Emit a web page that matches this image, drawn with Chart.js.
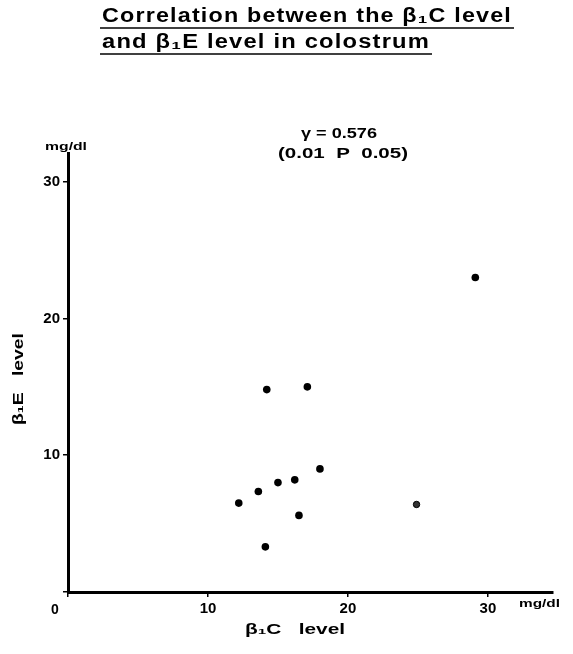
<!DOCTYPE html>
<html>
<head>
<meta charset="utf-8">
<script src="https://cdn.jsdelivr.net/npm/chart.js@4"></script>
<style>
html,body{margin:0;padding:0;background:#fff;}
#wrap{width:573px;height:654px;position:relative;}
</style>
</head>
<body>
<div id="wrap"><canvas id="c" width="573" height="654"></canvas></div>
<script>
// Data (mg/dl)
const b1cLevel = [14.2, 17.1, 18.0, 16.2, 15.0, 13.6, 12.2, 16.5, 14.1, 29.1];
const b1eLevel = [14.8, 15.0, 9.0, 8.2, 8.0, 7.35, 6.5, 5.6, 3.3, 23.0];
const faintX = [24.9];
const faintY = [6.4];
const xTicks = [10, 20, 30];
const yTicks = [10, 20, 30];
const titleLines = ['Correlation between the β\u2081C level', 'and β\u2081E level in colostrum'];
const statLines = ['\u03B3 = 0.576', '(0.01  P  0.05)'];

const FONT = '"Liberation Sans", Arial, sans-serif';

const pts = b1cLevel.map((x, i) => ({x: x, y: b1eLevel[i]}));
const faint = faintX.map((x, i) => ({x: x, y: faintY[i]}));

// draw text horizontally stretched to a target width, left edge at x
function fitText(ctx, text, x, y, width) {
  const w = ctx.measureText(text).width;
  ctx.save();
  ctx.translate(x, y);
  ctx.scale(width / w, 1);
  ctx.textAlign = 'left';
  ctx.fillText(text, 0, 0);
  ctx.restore();
}

const textPlugin = {
  id: 'texts',
  afterDraw(chart) {
    const ctx = chart.ctx;
    ctx.save();
    ctx.fillStyle = '#000';
    ctx.strokeStyle = '#000';
    // Title with underlines
    ctx.font = 'bold 20px ' + FONT;
    ctx.letterSpacing = '1px';
    ctx.textBaseline = 'alphabetic';
    const tx = 102;
    const tys = [22, 48];
    const tws = [410, 328];
    titleLines.forEach((t, i) => {
      fitText(ctx, t, tx, tys[i], tws[i]);
      ctx.lineWidth = 1.6;
      ctx.beginPath();
      ctx.moveTo(tx - 2, tys[i] + 6);
      ctx.lineTo(tx + tws[i] + 2, tys[i] + 6);
      ctx.stroke();
    });
    ctx.letterSpacing = '0px';
    // Correlation stats
    ctx.font = 'bold 15px ' + FONT;
    ctx.textBaseline = 'middle';
    fitText(ctx, statLines[0], 301, 134, 76);
    fitText(ctx, statLines[1], 278, 154, 130);
    // Units
    ctx.font = 'bold 11px ' + FONT;
    fitText(ctx, 'mg/dl', 45, 147, 42);
    fitText(ctx, 'mg/dl', 519, 604, 41);
    // Origin label
    ctx.font = 'bold 14px ' + FONT;
    ctx.textAlign = 'center';
    ctx.fillText('0', 55, 610);
    // Axis titles
    ctx.font = 'bold 15px ' + FONT;
    fitText(ctx, 'β\u2081C   level', 245, 630, 100);
    ctx.save();
    ctx.translate(19, 425);
    ctx.rotate(-Math.PI / 2);
    fitText(ctx, 'β\u2081E   level', 0, 0, 92);
    ctx.restore();
    ctx.restore();
  }
};

new Chart(document.getElementById('c'), {
  type: 'scatter',
  data: {
    datasets: [
      {data: pts, backgroundColor: '#000', borderColor: '#000', pointRadius: 3.8, pointBorderWidth: 0},
      {data: faint, backgroundColor: '#333', borderColor: '#000', pointRadius: 3.2, pointBorderWidth: 1}
    ]
  },
  options: {
    responsive: false,
    animation: false,
    devicePixelRatio: 1,
    layout: {padding: {left: 0, top: 153, right: 20, bottom: 0}},
    plugins: {legend: {display: false}, tooltip: {enabled: false}, title: {display: false}},
    scales: {
      x: {
        type: 'linear', min: 0, max: 34.65,
        afterFit(s) { s.height = 62; },
        afterBuildTicks(s) { s.ticks = [0].concat(xTicks).map(v => ({value: v})); },
        grid: {drawOnChartArea: false, drawTicks: true, tickLength: 5, color: '#000', lineWidth: 1.5},
        border: {display: true, color: '#000', width: 3},
        ticks: {
          color: '#000', font: {family: FONT, size: 15, weight: 'bold'}, padding: 3,
          callback: v => (v === 0 ? '' : String(v))
        }
      },
      y: {
        type: 'linear', min: 0, max: 32.1,
        afterFit(s) { s.width = 68; },
        afterBuildTicks(s) { s.ticks = [0].concat(yTicks).map(v => ({value: v})); },
        grid: {drawOnChartArea: false, drawTicks: true, tickLength: 5, color: '#000', lineWidth: 1.5},
        border: {display: true, color: '#000', width: 3},
        ticks: {
          color: '#000', font: {family: FONT, size: 15, weight: 'bold'}, padding: 3,
          callback: v => (v === 0 ? '' : String(v))
        }
      }
    }
  },
  plugins: [textPlugin]
});
</script>
</body>
</html>
